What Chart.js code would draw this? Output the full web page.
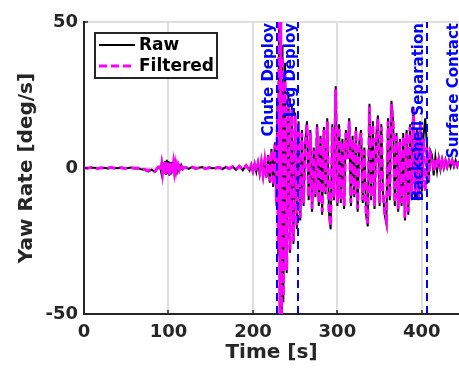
<!DOCTYPE html>
<html>
<head>
<meta charset="utf-8">
<script src="https://cdn.jsdelivr.net/npm/chart.js@4"></script>
<style>
html,body{margin:0;padding:0;background:#fff;}
#yaw{display:block;}
</style>
</head>
<body>
<canvas id="yaw" width="459" height="370"></canvas>
<script>
// time [s]
var time = [
 0,4,8,12,16,20,24,28,32,36,40,44,48,52,56,60,64,68,72,76,80,84,88,
 90,91,92,93,94,95,96,97,98,99,100,101,102,103,104,105,106,107,108,109,110,111,112,113,114,115,116,117,118,
 120,124,128,132,136,140,144,148,152,156,160,164,168,172,176,180,184,188,192,196,
 198,200,202,204,206,208,210,212,214,
 216,218,220,222,224,226,
 228,229,230,231,232,233,234,235,236,
 238,240,242,244,246,248,250,252,254,256,
 258,260,262,264,266,268,270,272,274,276,278,280,282,284,286,288,290,292,294,296,298,300,
 302,304,306,308,310,312,314,316,318,320,322,324,326,328,330,332,334,336,338,340,
 342,344,346,348,350,352,354,356,358,360,362,364,366,368,370,372,374,376,378,380,
 382,384,386,388,390,392,394,396,398,400,402,404,406,408,410,
 412,414,416,418,420,422,424,426,428,430,432,434,436,438,440,442,444
];

var raw = [
 0,-0.1,0.1,0.1,-0.1,0,0.1,-0.2,0.1,0,-0.1,0.2,-0.1,0,0.2,-0.2,-0.1,-0.4,-0.6,-1.2,-0.6,-1.3,0.4,
 0.5,-0.9,1.4,-1.5,1.9,-2,2.4,-2.3,2.8,-2,2.4,-2.6,2,-2.2,2,-1.6,1.4,-1.3,1.2,-1,0.9,-0.8,0.7,-0.6,0.5,-0.4,0.4,-0.3,0.3,
 0.3,-0.3,0.4,-0.2,0.1,0.3,-0.3,0.2,-0.1,0,0.3,-0.4,0.4,-0.3,0.5,-0.6,0.7,-0.8,0.9,-0.9,
 1.1,-1.2,1.4,-1.3,1.8,-1.9,2.3,-2.5,3,
 -3.3,4.4,-5,6.6,-6.5,8.8,
 -13,22,-30,58,-57,55,-54,42,-46,
 36,-36,26,-29,22,-26,19,-21,16,-18,
 13,-13,9,16,-11,13,-15,7,-10,15,-13,11,-16,14,-9,17,-15,-21,15,-11,28,-13,
 15,-12,10,-14,13,4,17,-13,11,-10,14,-15,9,13,-12,7,-16,-20,22,-11,
 16,-14,11,18,-13,15,-9,-16,-19,17,-11,23,16,-13,12,-15,10,-13,12,-18,
 13,-16,15,-11,21,-10,13,-11,16,-8,11,17,8,-5,6,
 4.5,-2.5,3.8,-1,3.4,-0.5,3,0,2.8,0.2,2.6,0.4,2.8,0.5,2.6,0.6,2.4
];

var filtered = [
 0.1,-0.1,0.2,0,-0.2,0.1,0,-0.1,0.2,-0.1,0,0.1,-0.2,0,0.1,-0.1,0,-0.3,-0.5,-0.9,-0.4,-1.1,0.3,
 0.4,-0.8,1.2,-1.4,1.6,-1.9,2.1,-2.2,2.5,-1.8,2.2,-2.4,1.8,-2,1.9,-1.5,1.3,-1.2,1.1,-0.9,0.8,-0.7,0.6,-0.5,0.4,-0.3,0.3,-0.2,0.2,
 0.2,-0.2,0.3,-0.1,0,0.2,-0.2,0.1,0,-0.1,0.2,-0.3,0.3,-0.2,0.4,-0.5,0.6,-0.6,0.8,-0.7,
 0.9,-1,1.2,-1.1,1.5,-1.6,2,-2.2,2.6,
 -3,4,-4.5,6,-6,8,
 -12,20,-28,55,-55,52,-52,38,-44,
 32,-35,24,-28,20,-25,18,-20,15,-17,
 12,-12,8,15,-10,12,-14,6,-9,14,-12,10,-15,13,-8,16,-14,-20,14,-10,27,-12,
 14,-11,9,-13,12,3,16,-12,10,-9,13,-14,8,12,-11,6,-15,-19,21,-10,
 15,-13,10,17,-12,14,-8,-15,-18,16,-10,22,15,-12,11,-14,9,-12,11,-17,
 12,-15,14,-10,20,-9,12,-10,15,-7,10,-8,7,-4,5,
 3.5,-1,3,0,2.8,0.2,2.5,0.5,2.4,0.6,2.2,0.8,2.4,1,2.2,1,2
];

// events marked with dashed lines
var eventTimes = [228, 253.5, 406, 447];
var eventLabels = ["Chute Deploy", "Leg Deploy", "Backshell Separation", "Surface Contact"];

var yTicks = [-50, 0, 50];
var xTicks = [0, 100, 200, 300, 400];

var txt = "#262626";
var fam = "'DejaVu Sans', sans-serif";

function pts(ys){
	var out = [];
	for (var i = 0; i < time.length; i++) out.push({x: time[i], y: ys[i]});
	return out;
}

// blue dashed xlines + rotated labels
var eventPlugin = {
	id: "events",
	afterDatasetsDraw: function(chart){
		var c = chart.ctx, a = chart.chartArea, xs = chart.scales.x;
		c.save();
		c.beginPath();
		c.rect(a.left, a.top, a.right - a.left, a.bottom - a.top);
		c.clip();
		c.strokeStyle = "#0000ff";
		c.lineWidth = 2;
		c.setLineDash([8, 5]);
		for (var i = 0; i < eventTimes.length; i++) {
			var px = Math.round(xs.getPixelForValue(eventTimes[i]));
			c.beginPath();
			c.moveTo(px, a.bottom);
			c.lineTo(px, a.top);
			c.stroke();
		}
		c.restore();
		c.save();
		c.fillStyle = "#0000ff";
		c.font = "bold 15px " + fam;
		c.textAlign = "right";
		c.textBaseline = "alphabetic";
		for (var j = 0; j < eventLabels.length; j++) {
			var lx = xs.getPixelForValue(eventTimes[j]) - 3.5;
			c.save();
			c.translate(lx, a.top + 1);
			c.rotate(-Math.PI / 2);
			c.fillText(eventLabels[j], 0, 0);
			c.restore();
		}
		c.restore();
	}
};

// matlab style legend box + inward ticks
var boxPlugin = {
	id: "box",
	afterDraw: function(chart){
		var c = chart.ctx, a = chart.chartArea;
		var xs = chart.scales.x, ys = chart.scales.y;
		c.save();
		c.strokeStyle = txt;
		c.lineWidth = 1.5;
		c.setLineDash([]);
		xs.ticks.forEach(function(t){
			var px = Math.round(xs.getPixelForValue(t.value));
			c.beginPath(); c.moveTo(px, a.bottom); c.lineTo(px, a.bottom - 4); c.stroke();
		});
		ys.ticks.forEach(function(t){
			var py = Math.round(ys.getPixelForValue(t.value));
			c.beginPath(); c.moveTo(a.left, py); c.lineTo(a.left + 4, py); c.stroke();
		});

		var bx = 95, by = 33, bw = 122, bh = 45;
		c.fillStyle = "#fff";
		c.fillRect(bx, by, bw, bh);
		c.lineWidth = 2;
		c.strokeStyle = txt;
		c.strokeRect(bx, by, bw, bh);
		var ds = chart.data.datasets;
		var rows = [45, 66];
		c.font = "bold 17px " + fam;
		c.textBaseline = "middle";
		c.textAlign = "left";
		for (var i = 0; i < ds.length; i++) {
			var d = ds[i];
			c.strokeStyle = d.borderColor;
			c.lineWidth = d.borderWidth;
			c.setLineDash(d.borderDash || []);
			c.beginPath();
			c.moveTo(99, rows[i]);
			c.lineTo(135, rows[i]);
			c.stroke();
			c.fillStyle = "#000";
			c.fillText(d.label, 139, rows[i] + 1);
		}
		c.restore();
	}
};

var ctx = document.getElementById("yaw").getContext("2d");
var chart = new Chart(ctx, {
	type: "line",
	data: {
		datasets: [
			{label: "Raw", data: pts(raw), borderColor: "#000000", borderWidth: 2, pointRadius: 0, order: 2},
			{label: "Filtered", data: pts(filtered), borderColor: "#ff00ff", borderWidth: 3, borderDash: [8, 4], pointRadius: 0, order: 1}
		]
	},
	options: {
		responsive: false,
		animation: false,
		devicePixelRatio: 1,
		layout: {padding: {top: 22, right: 0, bottom: 0, left: 0}},
		plugins: {legend: {display: false}, tooltip: {enabled: false}},
		elements: {line: {tension: 0}},
		scales: {
			x: {
				type: "linear", min: 0, max: 444,
				afterBuildTicks: function(s){ s.ticks = xTicks.map(function(v){ return {value: v}; }); },
				afterFit: function(s){ s.height = 56; },
				grid: {color: "#dfdfdf", lineWidth: 2, drawTicks: false},
				border: {color: txt, width: 2},
				ticks: {color: txt, padding: 8, maxRotation: 0, font: {family: fam, size: 18, weight: "bold"}},
				title: {display: true, text: "Time [s]", color: txt, padding: {top: 0, bottom: 5}, font: {family: fam, size: 20, weight: "bold"}}
			},
			y: {
				min: -50, max: 50,
				afterBuildTicks: function(s){ s.ticks = yTicks.map(function(v){ return {value: v}; }); },
				afterFit: function(s){ s.width = 84; },
				grid: {color: "#dfdfdf", lineWidth: 2, drawTicks: false},
				border: {color: txt, width: 2},
				ticks: {color: txt, padding: 6, font: {family: fam, size: 18, weight: "bold"}},
				title: {display: true, text: "Yaw Rate [deg/s]", color: txt, padding: {top: 15, bottom: 0}, font: {family: fam, size: 20, weight: "bold"}}
			}
		}
	},
	plugins: [eventPlugin, boxPlugin]
});
</script>
</body>
</html>
